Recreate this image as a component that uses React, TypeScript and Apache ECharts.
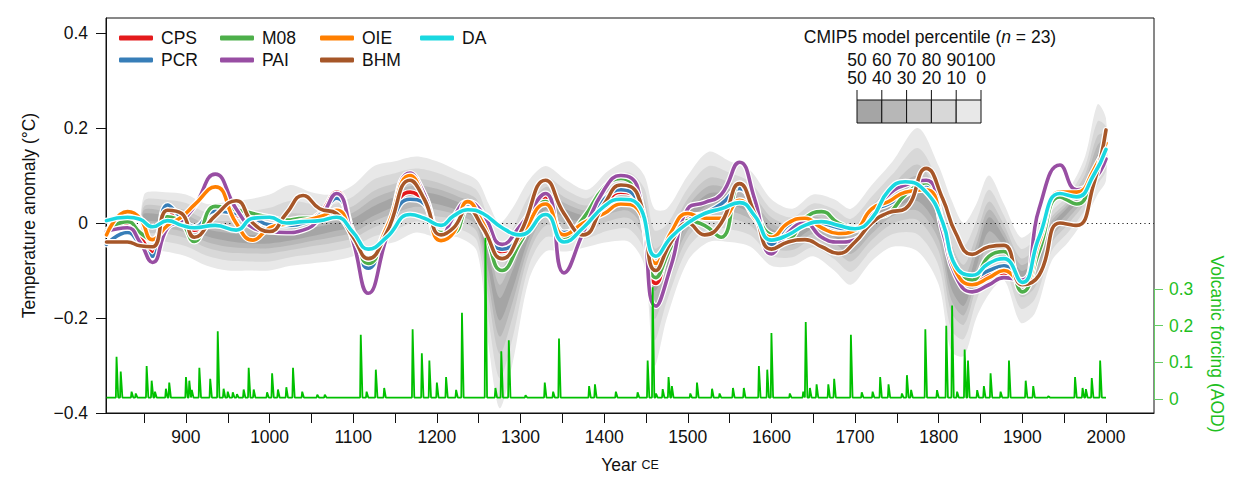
import React, { useEffect, useRef } from 'react';
import * as echarts from 'echarts';

// ---------------- data ----------------
const reconYears = [805, 830, 845, 860, 878, 895, 910, 935, 960, 980,
  1000, 1020, 1040, 1060, 1080, 1100, 1118, 1140, 1168, 1185,
  1205, 1220, 1237, 1255, 1278, 1300, 1330, 1352, 1375, 1400,
  1420, 1440, 1462, 1480, 1500, 1520, 1540, 1562, 1580, 1600,
  1620, 1640, 1660, 1680, 1700, 1720, 1740, 1760, 1785, 1805,
  1820, 1840, 1860, 1878, 1900, 1920, 1945, 1965, 1985, 2000];

const cps = [-0.022, -0.004, -0.03, -0.062, 0.027, 0.0, -0.015, 0.034, 0.017, 0.006,
  -0.003, -0.005, 0.003, 0.02, 0.065, -0.02, -0.09, -0.01, 0.065, 0.045,
  -0.025, -0.01, 0.03, 0.0, -0.06, -0.03, 0.055, -0.03, 0.0, 0.04,
  0.065, 0.045, -0.127, -0.04, 0.01, 0.02, 0.035, 0.072, 0.03, -0.043,
  -0.01, -0.004, -0.003, -0.005, -0.01, 0.03, 0.045, 0.06, 0.08, -0.01,
  -0.09, -0.125, -0.11, -0.105, -0.125, -0.04, 0.058, 0.06, 0.1, 0.165];

const pcr = [-0.045, -0.02, -0.045, -0.07, 0.038, 0.01, -0.008, 0.025, 0.02, 0.012,
  -0.004, -0.005, 0.0, 0.017, 0.052, -0.025, -0.095, -0.02, 0.05, 0.04,
  -0.02, -0.01, 0.035, 0.0, -0.055, -0.03, 0.045, -0.02, 0.0, 0.05,
  0.07, 0.045, -0.113, -0.04, 0.005, 0.02, 0.04, 0.073, 0.02, -0.045,
  -0.005, 0.005, 0.0, -0.01, -0.015, 0.025, 0.04, 0.06, 0.08, -0.005,
  -0.09, -0.115, -0.1, -0.09, -0.125, -0.035, 0.06, 0.055, 0.1, 0.16];

const m08 = [-0.015, 0.003, -0.02, -0.036, 0.013, 0.0, -0.039, 0.035, 0.028, 0.02,
  0.012, 0.006, 0.01, 0.01, 0.027, -0.03, -0.085, -0.02, 0.095, 0.06,
  -0.02, -0.02, 0.03, -0.01, -0.1, -0.04, 0.045, -0.03, 0.01, 0.075,
  0.094, 0.06, -0.115, -0.05, 0.005, -0.005, -0.03, 0.083, 0.03, -0.025,
  -0.03, 0.01, 0.024, 0.0, -0.01, 0.01, 0.02, 0.06, 0.085, 0.0,
  -0.09, -0.12, -0.07, -0.06, -0.145, -0.06, 0.055, 0.04, 0.1, 0.165];

const pai = [-0.018, -0.01, -0.04, -0.083, -0.01, 0.005, 0.035, 0.103, 0.03, -0.01,
  -0.018, -0.02, -0.015, 0.01, 0.062, -0.04, -0.148, -0.03, 0.105, 0.06,
  -0.03, 0.013, 0.045, 0.02, -0.045, -0.005, 0.062, -0.105, -0.02, 0.07,
  0.1, 0.075, -0.175, -0.09, 0.03, 0.043, 0.06, 0.128, 0.05, -0.065,
  -0.02, 0.0, -0.03, -0.04, -0.035, 0.02, 0.06, 0.08, 0.09, -0.02,
  -0.11, -0.145, -0.13, -0.115, -0.12, 0.03, 0.122, 0.07, 0.09, 0.135];

const oie = [-0.025, 0.024, 0.01, -0.035, -0.005, 0.013, 0.038, 0.076, 0.0, -0.036,
  -0.01, -0.002, 0.005, 0.013, 0.027, -0.03, -0.075, -0.01, 0.1, 0.05,
  -0.037, -0.02, 0.045, 0.0, -0.075, -0.03, 0.04, -0.025, 0.0, 0.02,
  0.04, 0.03, -0.085, -0.02, 0.02, 0.01, 0.01, 0.048, 0.01, -0.03,
  0.0, 0.01, -0.01, -0.022, -0.015, 0.03, 0.045, 0.065, 0.07, -0.005,
  -0.1, -0.13, -0.115, -0.1, -0.13, -0.04, 0.065, 0.065, 0.11, 0.168];

const bhm = [-0.04, -0.04, -0.048, -0.05, 0.027, 0.02, -0.03, 0.015, 0.047, 0.0,
  -0.018, 0.02, 0.058, 0.03, 0.02, -0.03, -0.075, -0.02, 0.09, 0.05,
  -0.025, -0.01, 0.03, -0.01, -0.075, -0.02, 0.09, 0.02, -0.025, 0.04,
  0.08, 0.06, -0.1, -0.04, 0.0, -0.025, 0.0, 0.083, 0.02, -0.055,
  -0.04, -0.035, -0.05, -0.064, -0.04, 0.0, 0.022, 0.03, 0.115, 0.05,
  -0.02, -0.066, -0.05, -0.047, -0.13, -0.11, 0.0, -0.005, 0.08, 0.196];

const da = [0.005, 0.012, 0.008, -0.008, 0.005, -0.005, -0.01, -0.005, -0.015, 0.01,
  0.012, 0.0, 0.003, 0.005, 0.012, -0.02, -0.055, -0.03, 0.018, 0.01,
  -0.005, 0.015, 0.028, 0.02, -0.01, -0.025, 0.018, -0.04, -0.01, 0.035,
  0.05, 0.04, -0.07, -0.03, 0.0, 0.02, 0.03, 0.043, 0.015, -0.036,
  -0.025, -0.005, 0.003, -0.005, -0.012, 0.01, 0.068, 0.087, 0.065, 0.0,
  -0.09, -0.11, -0.085, -0.075, -0.125, -0.03, 0.062, 0.055, 0.1, 0.155];

// CMIP5 model percentiles
const bandYears = [850, 875, 900, 925, 950, 975, 1000, 1025, 1050, 1075,
  1100, 1125, 1150, 1175, 1200, 1225, 1248, 1262, 1275, 1290,
  1310, 1330, 1355, 1380, 1405, 1430, 1448, 1460, 1475, 1500,
  1525, 1550, 1575, 1600, 1625, 1650, 1675, 1695, 1720, 1745,
  1775, 1800, 1815, 1830, 1845, 1860, 1878, 1898, 1915, 1935,
  1955, 1975, 1990, 2000];
const p100 = [.06, .065, .06, .04, .045, .05, .06, .08, .065, .06, .08, .12, .13, .14, .13, .11, .09, .04, 0, .03, .09, .12, .09, .07, .11, .13, .1, .03, .03, .1, .15, .13, .11, .05, .03, .06, .05, .03, .08, .13, .2, .12, .05, 0, .04, .1, .04, -.03, -.01, .04, .07, .14, .25, .22];
const p90 = [.047, .049, .042, .022, .023, .025, .032, .047, .040, .039, .056, .092, .105, .115, .106, .088, .068, .004, -.054, -.015, .057, .096, .069, .052, .089, .106, .073, -.015, -.003, .073, .12, .106, .086, .029, .012, .041, .029, .009, .056, .103, .158, .084, -.001, -.048, .004, .07, .016, -.054, -.034, .025, .058, .119, .214, .202];
const p80 = [.035, .035, .027, .007, .004, .003, .008, .020, .018, .022, .036, .068, .083, .093, .086, .069, .049, -.026, -.099, -.053, .030, .076, .052, .037, .072, .086, .051, -.053, -.031, .051, .095, .086, .066, .012, -.003, .024, .012, -.009, .036, .081, .123, .054, -.044, -.088, -.026, .045, -.004, -.074, -.054, .0125, .048, .102, .184, .187];
const p70 = [.028, .025, .017, -.003, -.009, -.011, -.008, .001, .004, .010, .022, .052, .069, .079, .072, .056, .036, -.046, -.130, -.078, .011, .062, .040, .027, .060, .072, .035, -.078, -.049, .035, .078, .072, .052, 0, -.013, .013, 0, -.020, .022, .065, .099, .034, -.072, -.115, -.046, .028, -.018, -.088, -.068, .004, .041, .090, .164, .177];
const p60 = [.020, .017, .007, -.013, -.021, -.025, -.024, -.017, -.010, -.002, .010, .036, .055, .065, .060, .044, .024, -.066, -.158, -.102, -.007, .050, .028, .017, .048, .060, .021, -.102, -.067, .021, .062, .060, .040, -.012, -.023, .003, -.012, -.032, .010, .051, .077, .014, -.100, -.141, -.066, .012, -.030, -.100, -.080, -.004, .035, .078, .144, .167];
const p40 = [.007, .002, -.008, -.028, -.038, -.043, -.043, -.037, -.028, -.018, -.008, .016, .035, .046, .040, .027, .006, -.102, -.205, -.142, -.032, .028, .010, .003, .030, .039, -.002, -.142, -.094, -.001, .039, .039, .020, -.028, -.037, -.013, -.030, -.051, -.010, .029, .046, -.016, -.138, -.174, -.094, -.018, -.050, -.122, -.102, -.018, .022, .063, .122, .152];
const p30 = [-.005, -.010, -.020, -.040, -.050, -.053, -.053, -.047, -.038, -.030, -.020, .004, .021, .034, .028, .017, -.006, -.130, -.239, -.170, -.048, .012, -.002, -.007, .018, .025, -.018, -.170, -.114, -.015, .025, .025, .008, -.040, -.047, -.023, -.042, -.065, -.022, .015, .026, -.036, -.162, -.194, -.114, -.042, -.062, -.138, -.118, -.030, .010, .053, .110, .140];
const p20 = [-.017, -.022, -.032, -.052, -.062, -.064, -.064, -.057, -.049, -.042, -.032, -.009, .007, .021, .014, .006, -.019, -.161, -.275, -.201, -.065, -.005, -.016, -.017, .004, .010, -.035, -.201, -.134, -.031, .010, .010, -.006, -.052, -.057, -.034, -.056, -.081, -.036, -.001, .006, -.059, -.188, -.214, -.134, -.068, -.076, -.155, -.135, -.042, -.002, .043, .099, .129];
const p10 = [-.034, -.039, -.049, -.069, -.079, -.081, -.081, -.072, -.066, -.059, -.049, -.028, -.015, .003, -.006, -.011, -.038, -.206, -.327, -.246, -.090, -.030, -.036, -.032, -.016, -.013, -.060, -.246, -.164, -.053, -.013, -.013, -.026, -.069, -.072, -.051, -.076, -.103, -.056, -.023, -.024, -.091, -.225, -.244, -.164, -.105, -.096, -.180, -.160, -.059, -.019, .028, .081, .111];
const p0 = [-.055, -.06, -.07, -.09, -.1, -.1, -.1, -.09, -.085, -.08, -.07, -.05, -.04, -.02, -.03, -.03, -.06, -.26, -.39, -.3, -.12, -.06, -.06, -.05, -.04, -.04, -.09, -.3, -.2, -.08, -.04, -.04, -.05, -.09, -.09, -.07, -.1, -.13, -.08, -.05, -.06, -.13, -.27, -.28, -.2, -.15, -.12, -.21, -.19, -.08, -.04, .01, .06, .09];

// Volcanic forcing (AOD): eruption years and peak values, plus background level
const volcStart = 805;
const volcEnd = 2000;
const volcBase = 0.004;
const volcYears = [817, 822, 835, 840, 853, 859, 863, 876, 880, 900, 904, 907, 916, 929, 938, 945, 950, 956, 961, 969,
  975, 981, 997, 1003, 1010, 1020, 1028, 1039, 1057, 1066, 1092, 1109, 1116, 1127, 1137, 1171, 1182, 1191, 1200, 1211,
  1223, 1230, 1258, 1270, 1277, 1286, 1306, 1329, 1339, 1346, 1382, 1389, 1414, 1440, 1452, 1458, 1462, 1470, 1477, 1481,
  1503, 1511, 1529, 1538, 1554, 1567, 1585, 1595, 1600, 1622, 1638, 1641, 1646, 1654, 1668, 1675, 1695, 1708, 1721, 1730,
  1740, 1756, 1762, 1767, 1784, 1798, 1809, 1816, 1822, 1831, 1835, 1846, 1854, 1862, 1874, 1884, 1904, 1913, 1931, 1963,
  1972, 1976, 1983, 1993];
const volcAOD = [.115, .075, .02, .015, .09, .05, .02, .028, .045, .06, .05, .025, .085, .055, .185, .028, .02, .018, .013, .026,
  .085, .026, .018, .07, .026, .032, .085, .02, .012, .012, .004, .175, .02, .08, .03, .19, .125, .105, .045, .06,
  .025, .235, .44, .03, .13, .16, .01, .045, .02, .165, .035, .04, .02, .018, .105, .305, .015, .027, .06, .035,
  .015, .045, .028, .015, .03, .03, .09, .08, .18, .015, .02, .21, .03, .04, .04, .055, .175, .018, .02, .06,
  .04, .015, .065, .025, .19, .024, .2, .255, .02, .135, .105, .024, .035, .07, .02, .105, .05, .035, .008, .06,
  .03, .027, .057, .105];

// axes
const yTicks = [-0.4, -0.2, 0, 0.2, 0.4];
const xTicks = [850, 900, 950, 1000, 1050, 1100, 1150, 1200, 1250, 1300, 1350, 1400, 1450, 1500, 1550, 1600, 1650, 1700, 1750, 1800, 1850, 1900, 1950, 2000];
const xLabels = [900, 1000, 1100, 1200, 1300, 1400, 1500, 1600, 1700, 1800, 1900, 2000];
const pctTop = ['50', '60', '70', '80', '90', '100'];
const pctBottom = ['50', '40', '30', '20', '10', '0'];

// ---------------- styling ----------------
const FONT = 'Liberation Sans, Arial, Helvetica, sans-serif';
const FS = 17.5;
const INK = '#111111';
const GREEN = '#1fbf1f';
const shades = ['#a5a5a5', '#b7b7b7', '#c8c8c8', '#d8d8d8', '#e8e8e8']; // darkest -> lightest

const recon = [
  { name: 'CPS', color: '#e41a1c', values: cps, pos: [119, 39] },
  { name: 'PCR', color: '#377eb8', values: pcr, pos: [119, 61] },
  { name: 'M08', color: '#4daf4a', values: m08, pos: [220, 39] },
  { name: 'PAI', color: '#984ea3', values: pai, pos: [220, 61] },
  { name: 'OIE', color: '#ff7f00', values: oie, pos: [320, 39] },
  { name: 'BHM', color: '#a65628', values: bhm, pos: [320, 61] },
  { name: 'DA', color: '#1ad8e0', values: da, pos: [420, 39] },
];

function buildOption() {
  const X_MIN = 804.4;
  const X_MAX = 2057.4;

  const levels = [
    { lo: p0, hi: p100, fill: shades[4] },
    { lo: p10, hi: p90, fill: shades[3] },
    { lo: p20, hi: p80, fill: shades[2] },
    { lo: p30, hi: p70, fill: shades[1] },
    { lo: p40, hi: p60, fill: shades[0] },
  ];

  const volcData: number[][] = [[volcStart, volcBase]];
  volcYears.forEach((yr, i) => {
    volcData.push([yr - 0.8, volcBase], [yr, volcAOD[i]], [yr + 2, volcBase]);
  });
  volcData.push([volcEnd, volcBase]);
  volcData.sort((a, b) => a[0] - b[0]);

  const series: any[] = [];

  series.push({
    type: 'custom',
    name: 'CMIP5',
    xAxisIndex: 0,
    yAxisIndex: 0,
    silent: true,
    z: 1,
    data: [[bandYears[0], 0]],
    renderItem: (_params: any, api: any) => {
      const children = levels.map((lv) => {
        const pts: number[][] = [];
        for (let i = 0; i < bandYears.length; i++) pts.push(api.coord([bandYears[i], lv.hi[i]]));
        for (let i = bandYears.length - 1; i >= 0; i--) pts.push(api.coord([bandYears[i], lv.lo[i]]));
        return {
          type: 'polygon',
          shape: { points: pts, smooth: 0.3 },
          style: { fill: lv.fill, stroke: 'none' },
        };
      });
      return { type: 'group', children };
    },
  });

  recon.forEach((r, i) => {
    const data = reconYears.map((yr, j) => [yr, r.values[j]]);
    const halo: any = {
      type: 'line',
      name: r.name + ' halo',
      xAxisIndex: 0,
      yAxisIndex: 0,
      data,
      smooth: 0.5,
      symbol: 'none',
      silent: true,
      lineStyle: { color: '#ffffff', width: 6, cap: 'round', join: 'round' },
      itemStyle: { color: '#ffffff' },
      z: 3 + i * 2,
    };
    if (i === 0) {
      halo.markLine = {
        silent: true,
        symbol: 'none',
        label: { show: false },
        lineStyle: { color: '#222', type: [1.2, 3.2], width: 1 },
        data: [{ yAxis: 0 }],
      };
    }
    series.push(halo);
    series.push({
      type: 'line',
      name: r.name,
      xAxisIndex: 0,
      yAxisIndex: 0,
      data,
      smooth: 0.5,
      symbol: 'none',
      lineStyle: { color: r.color, width: 3.6, cap: 'round', join: 'round' },
      itemStyle: { color: r.color },
      z: 4 + i * 2,
    });
  });

  series.push({
    type: 'line',
    name: 'Volcanic',
    xAxisIndex: 1,
    yAxisIndex: 1,
    data: volcData,
    symbol: 'none',
    clip: false,
    silent: true,
    lineStyle: { color: '#00c000', width: 1.8 },
    itemStyle: { color: '#00c000' },
    z: 40,
  });

  const legends = recon.map((r) => ({
    data: [r.name],
    left: r.pos[0],
    top: r.pos[1] - 10,
    padding: 0,
    itemWidth: 34,
    itemHeight: 5,
    icon: 'roundRect',
    selectedMode: false,
    textStyle: { fontSize: FS, color: INK, fontFamily: FONT, padding: [0, 0, 0, 3] },
  }));

  const px0 = 857;
  const cw = 24.8;
  const graphic: any[] = [
    {
      type: 'text',
      x: 930,
      y: 37,
      style: {
        text: 'CMIP5 model percentile ({i|n} = 23)',
        fontSize: FS,
        fontFamily: FONT,
        fill: INK,
        align: 'center',
        verticalAlign: 'middle',
        rich: { i: { fontStyle: 'italic', fontSize: FS, fontFamily: FONT, fill: INK } },
      },
    },
  ];
  pctTop.forEach((t, i) => {
    graphic.push({ type: 'text', x: px0 + i * cw, y: 60, style: { text: t, fontSize: FS, fontFamily: FONT, fill: INK, align: 'center', verticalAlign: 'middle' } });
  });
  pctBottom.forEach((t, i) => {
    graphic.push({ type: 'text', x: px0 + i * cw, y: 78, style: { text: t, fontSize: FS, fontFamily: FONT, fill: INK, align: 'center', verticalAlign: 'middle' } });
  });
  for (let i = 0; i < 6; i++) {
    graphic.push({ type: 'line', shape: { x1: px0 + i * cw, y1: 90, x2: px0 + i * cw, y2: 100 }, style: { stroke: INK, lineWidth: 1 } });
  }
  for (let i = 0; i < 5; i++) {
    graphic.push({ type: 'rect', shape: { x: px0 + i * cw, y: 100, width: cw, height: 23 }, style: { fill: shades[i], stroke: INK, lineWidth: 1 } });
  }

  const fmtY = (v: number) => (v < 0 ? '\u2212' + String(Math.abs(v)) : String(v));

  return {
    animation: false,
    backgroundColor: '#ffffff',
    textStyle: { fontFamily: FONT },
    grid: [
      { left: 106, right: 86, top: 18, bottom: 73, show: true, borderColor: INK, borderWidth: 1, backgroundColor: 'transparent' },
      { left: 106, right: 86, top: 289, bottom: 87 },
    ],
    xAxis: [
      {
        type: 'value',
        gridIndex: 0,
        position: 'bottom',
        min: X_MIN,
        max: X_MAX,
        axisLine: { show: true, onZero: false, lineStyle: { color: INK, width: 1 } },
        axisTick: { show: true, length: 10, customValues: xTicks, lineStyle: { color: INK, width: 1 } },
        axisLabel: { customValues: xLabels, fontSize: FS, color: INK, margin: 15, formatter: (v: number) => String(v) },
        splitLine: { show: false },
        name: 'Year {sc|CE}',
        nameLocation: 'middle',
        nameGap: 43,
        nameTextStyle: { fontSize: FS, color: INK, fontFamily: FONT, rich: { sc: { fontSize: 12.5, color: INK, fontFamily: FONT } } },
      },
      {
        type: 'value',
        gridIndex: 1,
        min: X_MIN,
        max: X_MAX,
        show: false,
        axisLine: { show: false, onZero: false },
        axisTick: { show: false },
        axisLabel: { show: false },
        splitLine: { show: false },
      },
    ],
    yAxis: [
      {
        type: 'value',
        gridIndex: 0,
        position: 'left',
        min: -0.4,
        max: 0.4316,
        axisLine: { show: true, onZero: false, lineStyle: { color: INK, width: 1 } },
        axisTick: { show: true, length: 10, customValues: yTicks, lineStyle: { color: INK, width: 1 } },
        axisLabel: { customValues: yTicks, fontSize: FS, color: INK, margin: 18, formatter: fmtY },
        splitLine: { show: false },
        name: 'Temperature anomaly (\u00B0C)',
        nameLocation: 'middle',
        nameRotate: 90,
        nameGap: 68,
        nameTextStyle: { fontSize: FS, color: INK, fontFamily: FONT },
      },
      {
        type: 'value',
        gridIndex: 1,
        position: 'right',
        min: 0,
        max: 0.3,
        interval: 0.1,
        axisLine: { show: true, onZero: false, lineStyle: { color: '#66cc66', width: 1 } },
        axisTick: { show: true, length: 9, lineStyle: { color: '#66cc66', width: 1 } },
        axisLabel: { fontSize: FS, color: GREEN, margin: 15, formatter: (v: number) => String(v) },
        splitLine: { show: false },
        name: 'Volcanic forcing (AOD)',
        nameLocation: 'middle',
        nameRotate: -90,
        nameGap: 54,
        nameTextStyle: { fontSize: FS, color: GREEN, fontFamily: FONT },
      },
    ],
    legend: legends,
    graphic,
    series,
  };
}

export default function App() {
  const ref = useRef<HTMLDivElement>(null);
  useEffect(() => {
    if (!ref.current) return;
    const chart = echarts.init(ref.current, null, { renderer: 'svg' });
    chart.setOption(buildOption() as any);
    return () => {
      chart.dispose();
    };
  }, []);
  return <div ref={ref} style={{ position: 'absolute', left: 0, top: 0, width: 1240, height: 486 }} />;
}
